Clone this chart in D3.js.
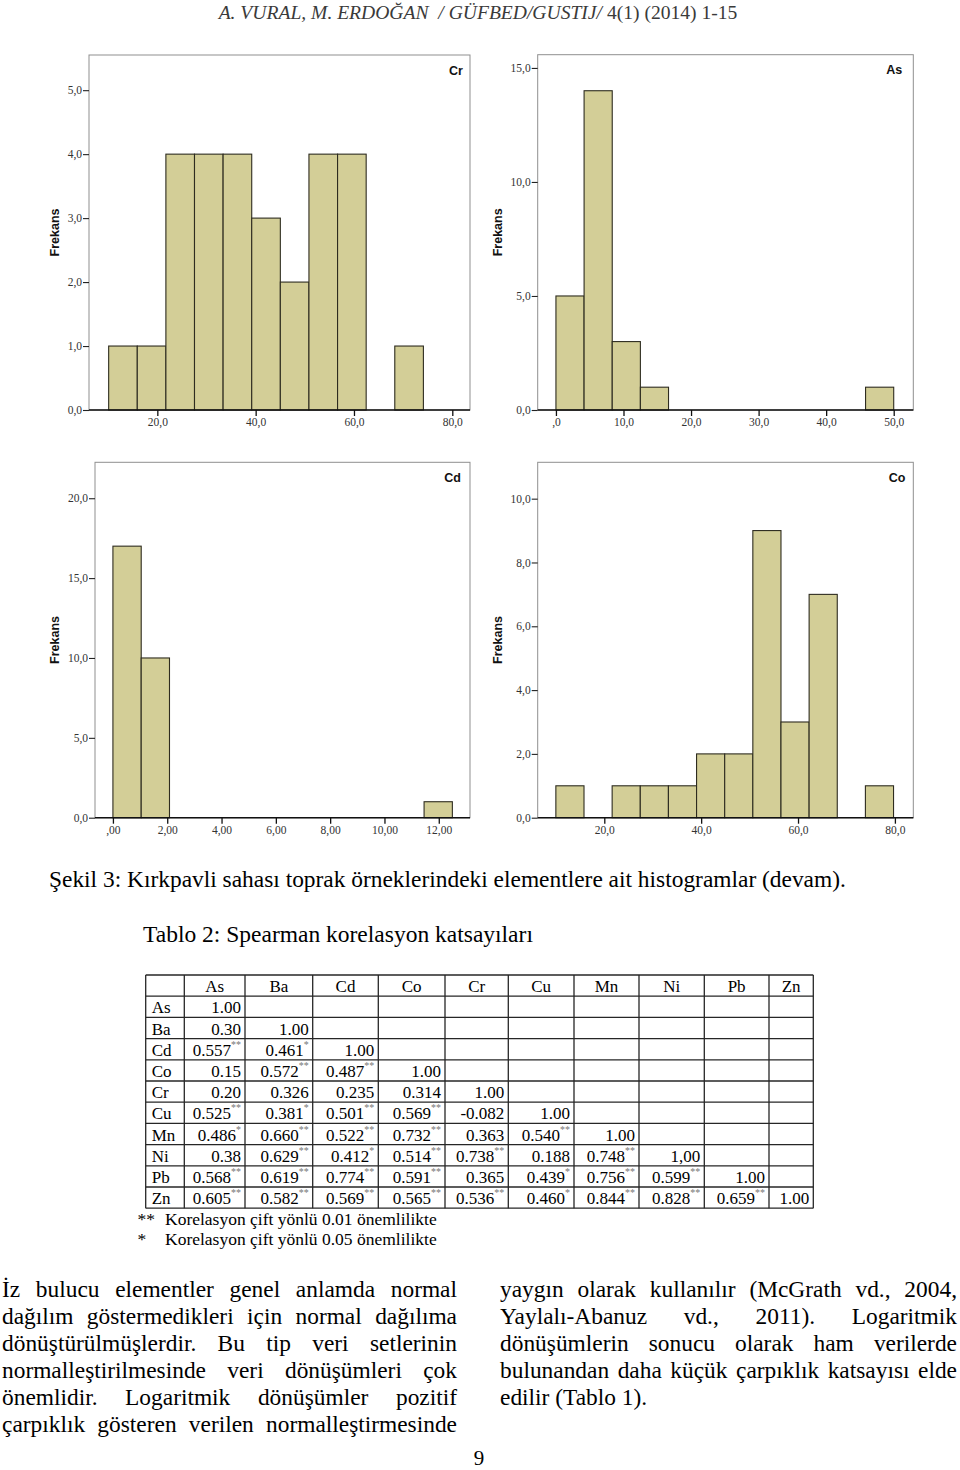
<!DOCTYPE html>
<html><head><meta charset="utf-8">
<script src="https://cdn.jsdelivr.net/npm/d3@7"></script>
<style>body{margin:0;background:#fff} svg{display:block}</style>
</head><body><div id="c"></div>
<script>
// ---------------- DATA ----------------
// Histograms (bin start, bin width, counts)
const crBinStart = 10.1, crBinWidth = 5.82;
const crCounts = [1, 1, 4, 4, 4, 3, 2, 4, 4, 0, 1];
const asBinStart = 0, asBinWidth = 4.1667;
const asCounts = [5, 14, 3, 1, 0, 0, 0, 0, 0, 0, 0, 1];
const cdBinStart = 0, cdBinWidth = 1.0417;
const cdCounts = [17, 10, 0, 0, 0, 0, 0, 0, 0, 0, 0, 1];
const coBinStart = 10.0, coBinWidth = 5.81;
const coCounts = [1, 0, 1, 1, 1, 2, 2, 9, 3, 7, 0, 1];

const crXTicks = [20, 40, 60, 80], crXLabels = ["20,0", "40,0", "60,0", "80,0"];
const crYTicks = [0, 1, 2, 3, 4, 5], crYLabels = ["0,0", "1,0", "2,0", "3,0", "4,0", "5,0"];
const asXTicks = [0, 10, 20, 30, 40, 50], asXLabels = [",0", "10,0", "20,0", "30,0", "40,0", "50,0"];
const asYTicks = [0, 5, 10, 15], asYLabels = ["0,0", "5,0", "10,0", "15,0"];
const cdXTicks = [0, 2, 4, 6, 8, 10, 12], cdXLabels = [",00", "2,00", "4,00", "6,00", "8,00", "10,00", "12,00"];
const cdYTicks = [0, 5, 10, 15, 20], cdYLabels = ["0,0", "5,0", "10,0", "15,0", "20,0"];
const coXTicks = [20, 40, 60, 80], coXLabels = ["20,0", "40,0", "60,0", "80,0"];
const coYTicks = [0, 2, 4, 6, 8, 10], coYLabels = ["0,0", "2,0", "4,0", "6,0", "8,0", "10,0"];

// Correlation table
const elements = ["As", "Ba", "Cd", "Co", "Cr", "Cu", "Mn", "Ni", "Pb", "Zn"];
const corrValues = [
  ["1.00"],
  ["0.30", "1.00"],
  ["0.557", "0.461", "1.00"],
  ["0.15", "0.572", "0.487", "1.00"],
  ["0.20", "0.326", "0.235", "0.314", "1.00"],
  ["0.525", "0.381", "0.501", "0.569", "-0.082", "1.00"],
  ["0.486", "0.660", "0.522", "0.732", "0.363", "0.540", "1.00"],
  ["0.38", "0.629", "0.412", "0.514", "0.738", "0.188", "0.748", "1,00"],
  ["0.568", "0.619", "0.774", "0.591", "0.365", "0.439", "0.756", "0.599", "1.00"],
  ["0.605", "0.582", "0.569", "0.565", "0.536", "0.460", "0.844", "0.828", "0.659", "1.00"]
];
const corrSig = [
  [""],
  ["", ""],
  ["**", "*", ""],
  ["", "**", "**", ""],
  ["", "", "", "", ""],
  ["**", "*", "**", "**", "", ""],
  ["*", "**", "**", "**", "", "**", ""],
  ["", "**", "*", "**", "**", "", "**", ""],
  ["**", "**", "**", "**", "", "*", "**", "**", ""],
  ["**", "**", "**", "**", "**", "*", "**", "**", "**", ""]
];
const footnotes = [["**", "Korelasyon çift yönlü 0.01 önemlilikte"], ["*", "Korelasyon çift yönlü 0.05 önemlilikte"]];

const headerItalic = "A. VURAL, M. ERDOĞAN  / GÜFBED/GUSTIJ/ ";
const headerRoman = "4(1) (2014) 1-15";
const captionText = "Şekil 3: Kırkpavli sahası toprak örneklerindeki elementlere ait histogramlar (devam).";
const tableTitle = "Tablo 2: Spearman korelasyon katsayıları";
const leftLines = [
  "İz bulucu elementler genel anlamda normal",
  "dağılım göstermedikleri için normal dağılıma",
  "dönüştürülmüşlerdir. Bu tip veri setlerinin",
  "normalleştirilmesinde veri dönüşümleri çok",
  "önemlidir. Logaritmik dönüşümler pozitif",
  "çarpıklık gösteren verilen normalleştirmesinde"
];
const rightLines = [
  "yaygın olarak kullanılır (McGrath vd., 2004,",
  "Yaylalı-Abanuz vd., 2011). Logaritmik",
  "dönüşümlerin sonucu olarak ham verilerde",
  "bulunandan daha küçük çarpıklık katsayısı elde",
  "edilir (Tablo 1)."
];
const pageNumber = "9";

// ---------------- LAYOUT ----------------
const SERIF = "'Liberation Serif','Times New Roman',serif";
const SANS = "'Liberation Sans',Arial,sans-serif";
const svg = d3.select("#c").append("svg").attr("width", 960).attr("height", 1470);

function measure(str, size, family, style) {
  const t = svg.append("text").attr("font-family", family || SERIF).attr("font-size", size)
    .attr("font-style", style || "normal").text(str);
  const w = t.node().getComputedTextLength(); t.remove(); return w;
}

// Header
(function () {
  const t = svg.append("text").attr("font-family", SERIF).attr("font-size", 20).attr("fill", "#3a3a3a")
    .attr("text-anchor", "middle").attr("x", 478).attr("y", 19).attr("xml:space", "preserve");
  t.append("tspan").attr("font-style", "italic").text(headerItalic);
  t.append("tspan").text(headerRoman);
  const w = t.node().getComputedTextLength();
  t.attr("font-size", 20 * 519 / w);
})();

// Histogram panels
const panels = [
  { name: "Cr", counts: crCounts, start: crBinStart, width: crBinWidth, xDom: [6.1, 83.6], yDom: [0, 5.55],
    xTicks: crXTicks, xLabels: crXLabels, yTicks: crYTicks, yLabels: crYLabels,
    box: { l: 89, r: 470, t: 55, b: 410 }, frekDx: 34, titleDx: 7 },
  { name: "As", counts: asCounts, start: asBinStart, width: asBinWidth, xDom: [-2.7, 52.9], yDom: [0, 15.58],
    xTicks: asXTicks, xLabels: asXLabels, yTicks: asYTicks, yLabels: asYLabels,
    box: { l: 537.7, r: 913.3, t: 54.7, b: 410 }, frekDx: 40, titleDx: 11 },
  { name: "Cd", counts: cdCounts, start: cdBinStart, width: cdBinWidth, xDom: [-0.66, 13.15], yDom: [0, 22.25],
    xTicks: cdXTicks, xLabels: cdXLabels, yTicks: cdYTicks, yLabels: cdYLabels,
    box: { l: 95, r: 470, t: 462.3, b: 817.7 }, frekDx: 40, titleDx: 9 },
  { name: "Co", counts: coCounts, start: coBinStart, width: coBinWidth, xDom: [6.25, 83.8], yDom: [0, 11.14],
    xTicks: coXTicks, xLabels: coXLabels, yTicks: coYTicks, yLabels: coYLabels,
    box: { l: 537.7, r: 913.3, t: 462.3, b: 817.7 }, frekDx: 40, titleDx: 8 }
];

panels.forEach(p => {
  const B = p.box;
  const x = d3.scaleLinear().domain(p.xDom).range([B.l, B.r]);
  const y = d3.scaleLinear().domain(p.yDom).range([B.b, B.t]);
  const g = svg.append("g");
  // frame
  g.append("rect").attr("x", B.l).attr("y", B.t).attr("width", B.r - B.l).attr("height", B.b - B.t)
    .attr("fill", "#fff").attr("stroke", "#8f8f8f").attr("stroke-width", 1);
  // bars
  const bins = p.counts.map((c, i) => ({ x0: p.start + i * p.width, x1: p.start + (i + 1) * p.width, c }))
    .filter(d => d.c > 0);
  g.selectAll("rect.bar").data(bins).enter().append("rect").attr("class", "bar")
    .attr("x", d => x(d.x0)).attr("width", d => x(d.x1) - x(d.x0))
    .attr("y", d => y(d.c)).attr("height", d => y(0) - y(d.c))
    .attr("fill", "#d3ce97").attr("stroke", "#2e2c20").attr("stroke-width", 1.1);
  // x axis
  const xa = g.append("g").attr("transform", `translate(0,${B.b})`)
    .call(d3.axisBottom(x).tickValues(p.xTicks).tickFormat((d, i) => p.xLabels[i]).tickSizeOuter(0).tickSize(6).tickPadding(2));
  xa.select(".domain").remove();
  xa.selectAll(".tick line").attr("stroke", "#111").attr("stroke-width", 1.3);
  xa.selectAll("text").attr("font-family", SERIF).attr("font-size", 11.5).attr("fill", "#333");
  g.append("line").attr("x1", B.l).attr("x2", B.r).attr("y1", B.b).attr("y2", B.b)
    .attr("stroke", "#111").attr("stroke-width", 1.5);
  // y axis
  const ya = g.append("g").attr("transform", `translate(${B.l},0)`)
    .call(d3.axisLeft(y).tickValues(p.yTicks).tickFormat((d, i) => p.yLabels[i]).tickSizeOuter(0).tickSize(6).tickPadding(1));
  ya.select(".domain").remove();
  ya.selectAll(".tick line").attr("stroke", "#222").attr("stroke-width", 1.1);
  ya.selectAll("text").attr("font-family", SERIF).attr("font-size", 11.5).attr("fill", "#333");
  // labels
  g.append("text").attr("transform", `translate(${B.l - p.frekDx},${(B.t + B.b) / 2}) rotate(-90)`)
    .attr("text-anchor", "middle").attr("dy", "0.35em").attr("font-family", SANS).attr("font-weight", "bold")
    .attr("font-size", 12.5).attr("fill", "#111").text("Frekans");
  g.append("text").attr("x", B.r - p.titleDx).attr("y", B.t + 19.5).attr("text-anchor", "end")
    .attr("font-family", SANS).attr("font-weight", "bold").attr("font-size", 12.5).attr("fill", "#111").text(p.name);
});

// Caption and table title, fitted to the measured widths
function fitted(str, x, y, width) {
  const t = svg.append("text").attr("font-family", SERIF).attr("font-size", 20).attr("x", x).attr("y", y)
    .attr("fill", "#000").text(str);
  const w = t.node().getComputedTextLength();
  t.attr("font-size", 20 * width / w);
}
fitted(captionText, 49, 887, 797);
fitted(tableTitle, 143, 942, 390);

// Table
const colEdges = [145.7, 184.3, 245, 312.7, 378.3, 445, 508.3, 574, 639, 704.3, 769, 813.3];
const rowTop = 975, rowH = 21.2;
const tg = svg.append("g").attr("font-family", SERIF).attr("font-size", 17).attr("fill", "#000");
const nRows = elements.length + 1;
for (let i = 0; i <= nRows; i++) {
  tg.append("line").attr("x1", colEdges[0]).attr("x2", colEdges[colEdges.length - 1])
    .attr("y1", rowTop + i * rowH).attr("y2", rowTop + i * rowH).attr("stroke", "#262626").attr("stroke-width", 1.3);
}
colEdges.forEach(cx => {
  tg.append("line").attr("x1", cx).attr("x2", cx).attr("y1", rowTop).attr("y2", rowTop + nRows * rowH)
    .attr("stroke", "#262626").attr("stroke-width", 1.3);
});
// header
elements.forEach((e, j) => {
  tg.append("text").attr("x", (colEdges[j + 1] + colEdges[j + 2]) / 2).attr("y", rowTop + rowH - 4.5)
    .attr("text-anchor", "middle").text(e);
});
elements.forEach((e, i) => {
  const yb = rowTop + (i + 2) * rowH - 4;
  tg.append("text").attr("x", colEdges[0] + 6).attr("y", yb).text(e);
  corrValues[i].forEach((v, j) => {
    const t = tg.append("text").attr("x", colEdges[j + 2] - 4).attr("y", yb).attr("text-anchor", "end");
    t.append("tspan").text(v);
    const s = corrSig[i][j];
    if (s) t.append("tspan").attr("dy", -8).attr("font-size", 10).attr("fill", "#777").text(s);
  });
});
// footnotes
footnotes.forEach((f, i) => {
  const yb = 1225 + i * 20;
  tg.append("text").attr("x", 137.5).attr("y", yb).attr("font-size", 17.5).text(f[0]);
  tg.append("text").attr("x", 165).attr("y", yb).attr("font-size", 17.5).text(f[1]);
});

// Body text (justified columns)
const BODY = 23.4;
const spaceW = measure("a a", BODY) - measure("aa", BODY);
function drawLine(line, x0, x1, y, justify) {
  const words = line.split(" ");
  const ws = words.map(w => measure(w, BODY));
  const total = d3.sum(ws);
  const gap = justify && words.length > 1 ? (x1 - x0 - total) / (words.length - 1) : spaceW;
  let cx = x0;
  words.forEach((w, i) => {
    svg.append("text").attr("x", cx).attr("y", y).attr("font-family", SERIF).attr("font-size", BODY)
      .attr("fill", "#000").text(w);
    cx += ws[i] + gap;
  });
}
leftLines.forEach((l, i) => drawLine(l, 2, 457, 1297 + i * 27, true));
rightLines.forEach((l, i) => drawLine(l, 500, 957, 1297 + i * 27, i < rightLines.length - 1));

svg.append("text").attr("x", 479).attr("y", 1465).attr("text-anchor", "middle").attr("font-family", SERIF)
  .attr("font-size", 21).text(pageNumber);
</script>
</body></html>
